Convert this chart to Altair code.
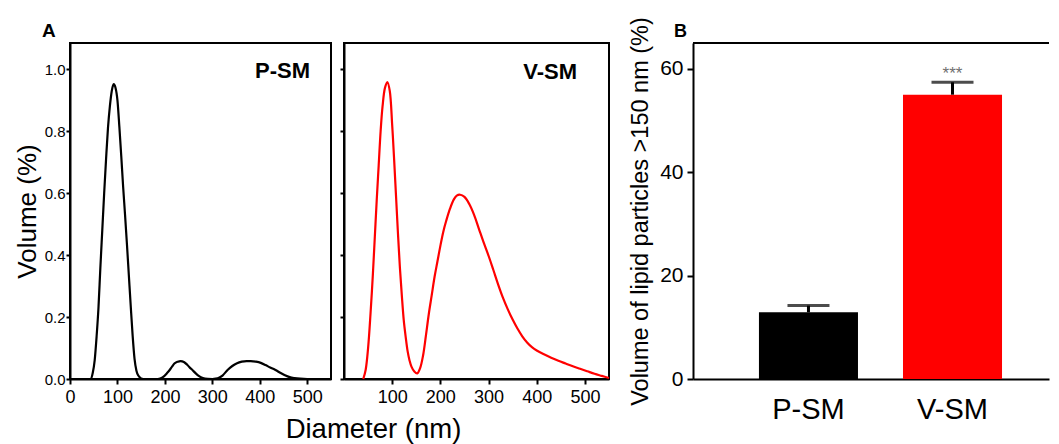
import altair as alt
import pandas as pd

FONT = "Liberation Sans, Arial, Helvetica, sans-serif"
NARROW = "Liberation Sans Narrow, Arial Narrow, Liberation Sans, Arial, sans-serif"

# ---- Panel A: size distributions (diameter nm, volume %) ----
psm_d = [0, 30, 40, 44, 48, 52, 56, 60, 64, 68, 72, 76, 80, 84, 88, 92, 96, 100,
         104, 108, 112, 116, 120, 124, 128, 132, 136, 140, 144, 148, 152, 156,
         170, 185, 195, 205, 210, 215, 220, 227, 233, 240, 247, 253, 258, 265,
         272, 280, 290, 300, 307, 315, 322, 332, 342, 352, 362, 372, 381, 392,
         402, 412, 422, 433, 443, 453, 463, 473, 485, 500, 525]
psm_v = [0, 0, 0, 0.0, 0.02, 0.06, 0.136, 0.23, 0.36, 0.48, 0.60, 0.71, 0.81,
         0.88, 0.93, 0.952, 0.94, 0.90, 0.815, 0.72, 0.62, 0.53, 0.435, 0.335,
         0.235, 0.14, 0.065, 0.027, 0.011, 0.004, 0.001, 0,
         0, 0, 0.005, 0.02, 0.029, 0.04, 0.05, 0.056, 0.058, 0.055, 0.046,
         0.036, 0.029, 0.018, 0.009, 0.003, 0.0005, 0, 0.001, 0.005, 0.012,
         0.029, 0.042, 0.051, 0.056, 0.058, 0.058, 0.056, 0.052, 0.045, 0.037,
         0.029, 0.020, 0.012, 0.006, 0.003, 0.001, 0.0, 0.0]

vsm_d = [40, 45, 50, 55, 60, 64, 68, 72, 76, 80, 85, 90, 95, 100, 104, 108, 112,
         116, 120, 124, 128, 132, 136, 140, 146, 152, 158, 164, 170, 176, 182,
         188, 194, 200, 206, 212, 220, 228, 234, 241, 250, 260, 270, 280, 290,
         300, 310, 320, 330, 340, 350, 360, 370, 380, 390, 400, 415, 430, 445,
         460, 475, 490, 505, 520, 535, 550]
vsm_v = [0, 0.03, 0.10, 0.21, 0.34, 0.46, 0.58, 0.69, 0.80, 0.88, 0.94, 0.959,
         0.93, 0.82, 0.71, 0.59, 0.47, 0.36, 0.27, 0.19, 0.136, 0.09, 0.06, 0.04,
         0.024, 0.018, 0.035, 0.075, 0.14, 0.21, 0.27, 0.33, 0.38, 0.43, 0.475,
         0.51, 0.55, 0.58, 0.592, 0.595, 0.588, 0.565, 0.53, 0.485, 0.44, 0.398,
         0.352, 0.305, 0.262, 0.225, 0.192, 0.163, 0.138, 0.118, 0.103, 0.092,
         0.080, 0.069, 0.059, 0.05, 0.041, 0.033, 0.025, 0.017, 0.01, 0.003]

# ---- Panel B: volume of particles > 150 nm ----
groups = ["P-SM", "V-SM"]
means = [12.9, 55.0]
errs = [1.3, 2.4]
bar_colors = ["#000000", "#ff0000"]
sig_marks = ["", "***"]

x_ticks_left = [0, 100, 200, 300, 400, 500]
x_ticks_right = [100, 200, 300, 400, 500]
y_ticks_a = [0, 0.2, 0.4, 0.6, 0.8, 1.0]
y_ticks_b = [0, 20, 40, 60]

psm = pd.DataFrame({"d": psm_d, "v": psm_v})
vsm = pd.DataFrame({"d": vsm_d, "v": vsm_v})
bars = pd.DataFrame({"g": groups, "m": means, "e": errs, "sig": sig_marks})
bars["hi"] = bars["m"] + bars["e"]

W1, W2, WB, H = 261, 265, 356, 336

xscale = alt.Scale(domain=[0, 550], nice=False, zero=False)
yscale = alt.Scale(domain=[0, 1.085], nice=False)

common_axis = dict(labelColor="black", tickColor="black", domainColor="black",
                   domainWidth=2, tickWidth=2, grid=False, titleColor="black",
                   titleFontWeight="normal", titleFont=FONT)


def tag(text, x, y, size):
    return alt.Chart(pd.DataFrame({"t": [text]})).mark_text(
        font=FONT, fontSize=size, fontWeight="bold", align="right" if x > 0 else "left",
        baseline="alphabetic", color="black").encode(
        x=alt.value(x), y=alt.value(y), text="t:N")


# Panel A left (P-SM)
x1 = alt.X("d:Q", scale=xscale, axis=alt.Axis(
    values=x_ticks_left, title="Diameter (nm)", titleFontSize=27.5,
    titleX=303, titleY=58, titleBaseline="alphabetic", titleAlign="center",
    labelFont=NARROW, labelFontSize=18, labelPadding=4, tickSize=5,
    labelFlush=False, **common_axis))
y1 = alt.Y("v:Q", scale=yscale, axis=alt.Axis(
    values=y_ticks_a, format=".1f", title="Volume (%)", titleFontSize=26,
    titlePadding=4, labelFont=FONT, labelFontSize=15, labelPadding=1,
    tickSize=4, **common_axis))

line1 = alt.Chart(psm).mark_line(color="black", strokeWidth=2.2,
                                 interpolate="monotone").encode(x=x1, y=y1)
panel1 = alt.layer(line1, tag("P-SM", 240, 35, 22), tag("A", -28, -6, 19)
                   ).properties(width=W1, height=H)

# Panel A right (V-SM)
x2 = alt.X("d:Q", scale=xscale, axis=alt.Axis(
    values=x_ticks_right, title=None, labelFont=NARROW, labelFontSize=18,
    labelPadding=4, tickSize=5, labelFlush=False, **common_axis))
y2 = alt.Y("v:Q", scale=yscale, axis=alt.Axis(
    values=y_ticks_a, title=None, labels=False, tickSize=4, **common_axis))
line2 = alt.Chart(vsm).mark_line(color="#ff0000", strokeWidth=2.2,
                                 interpolate="catmull-rom").encode(x=x2, y=y2)
panel2 = alt.layer(line2, tag("V-SM", 233, 36, 22)).properties(width=W2, height=H)

# empty gap between panel A and panel B
spacer = alt.Chart(pd.DataFrame({"a": [0]})).mark_point(opacity=0).properties(
    width=58, height=H, view=alt.ViewBackground(strokeOpacity=0))

# Panel B bars
xb = alt.X("g:N", sort=groups, scale=alt.Scale(
    paddingInner=0.3125, paddingOuter=0.392, align=0.584), axis=alt.Axis(
    title=None, labelAngle=0, labelFont=FONT, labelFontSize=29,
    labelPadding=16, ticks=False, **common_axis))
yb = alt.Y("m:Q", scale=alt.Scale(domain=[0, 65], nice=False), axis=alt.Axis(
    values=y_ticks_b, title="Volume of lipid particles >150 nm (%)",
    titleFontSize=23.5, titlePadding=7, labelFont=FONT, labelFontSize=21,
    labelPadding=4, tickSize=6, **common_axis))

base_b = alt.Chart(bars)
bar = base_b.mark_bar().encode(
    x=xb, y=yb,
    color=alt.Color("g:N", scale=alt.Scale(domain=groups, range=bar_colors),
                    legend=None))
err = base_b.mark_rule(color="black", strokeWidth=3).encode(
    x=alt.X("g:N", sort=groups), y="m:Q", y2="hi:Q")
cap = base_b.mark_tick(color="black", thickness=3, size=42).encode(
    x=alt.X("g:N", sort=groups), y="hi:Q")
sig = base_b.mark_text(font=FONT, fontSize=17, color="#707070",
                       baseline="alphabetic", dy=-3).encode(
    x=alt.X("g:N", sort=groups), y="hi:Q", text="sig:N")
top_line = base_b.mark_rule(color="black", strokeWidth=2).encode(
    y=alt.datum(65))
panelB = alt.layer(bar, err, cap, sig, top_line, tag("B", -19, -6, 18)).properties(
    width=WB, height=H,
    view=alt.ViewBackground(strokeOpacity=0))

chart = alt.hconcat(
    panel1, panel2, spacer, panelB, spacing=13, bounds="flush"
).properties(
    padding={"left": 5, "top": 8, "right": 0, "bottom": 0}
).configure_view(stroke="black", strokeWidth=2)

chart.save("out.html", embed_options={"renderer": "svg", "actions": False})
